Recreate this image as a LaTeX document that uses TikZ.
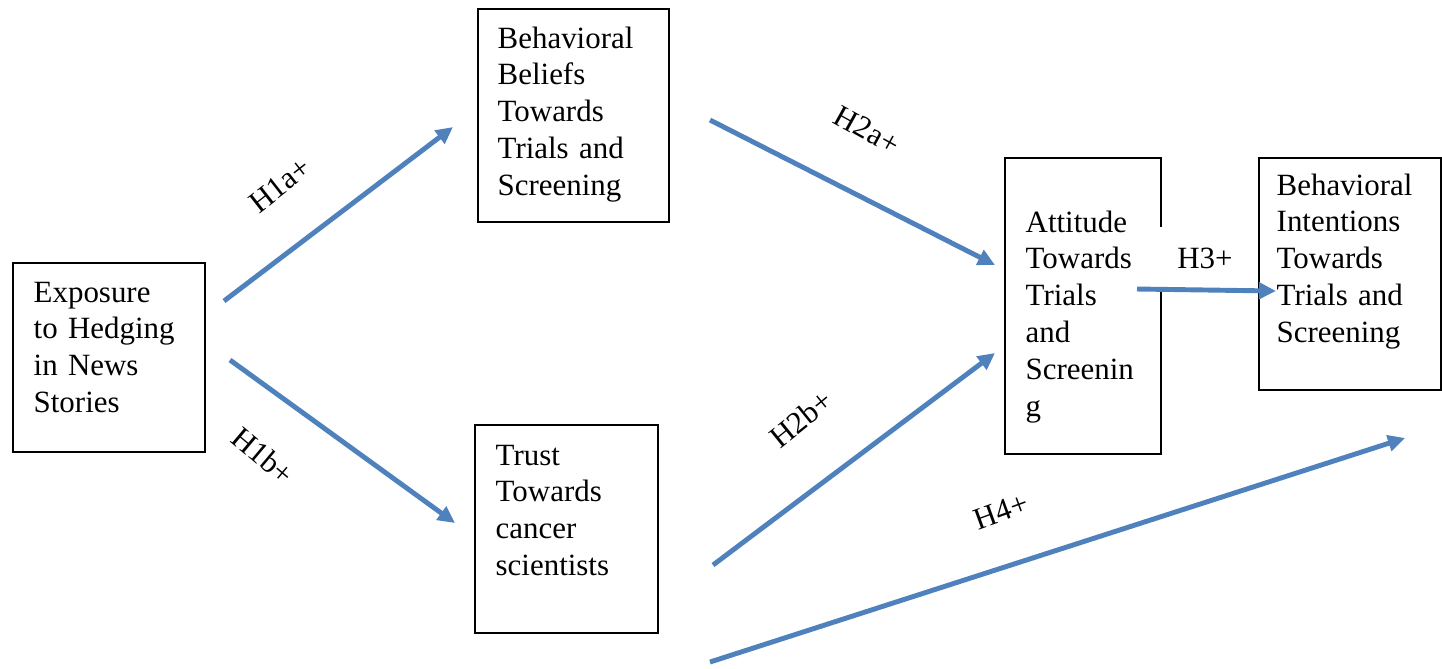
\documentclass[tikz,border=0pt]{standalone}
\usepackage{fontspec}
\setmainfont{Liberation Serif}
\usetikzlibrary{positioning,calc,arrows.meta}

\begin{document}
\begin{tikzpicture}[x=0.1mm,y=-0.1mm]
  \useasboundingbox (0,0) rectangle (1442,668);
  \begin{scope}[
    every node/.style={
      font=\fontsize{8.8}{10.5}\selectfont,
    },
    box/.style={
      rectangle,
      draw,
      line width=0.6pt,
      anchor=north west,
      inner sep=0pt,
    },
    boxtext/.style={
      anchor=base west,
      align=left,
      text width=16mm,
      inner sep=0pt,
    },
    ]
    % Exposure
    \node [box,minimum width=19.2mm,minimum height=18.9mm] (Expo) at (12,262) {};
    \node [boxtext] (ExpoT) at (33,302)
    {Exposure\\
      to Hedging\\
      in News\\
      Stories};

    % Beliefs
    \node [box,minimum width=19.1mm,minimum height=21.3mm] (Belief) at (477,8) {};
    \node [boxtext] (BeliefT) at (497,48)
    {Behavioral\\
      Beliefs\\
      Towards\\
      Trials and\\
      Screening};

    % Trust
    \node [box,minimum width=18.3mm,minimum height=20.8mm] (Trust) at (474,424) {};
    \node [boxtext] (TrustT) at (495,465)
    {Trust\\
      Towards\\
      cancer\\
      scientists};

    % Attitude
    \node [box,minimum width=15.6mm,minimum height=29.6mm] (Att) at (1004,157) {};
    \node [boxtext] (AttT) at (1025,232)
    {Attitude\\
      Towards\\
      Trials\\
      and\\
      Screenin\\
      g};

    % Intentions
    \node [box,minimum width=18.2mm,minimum height=23.2mm] (Intent) at (1258,157) {};
    \node [boxtext] (IntentT) at (1276,195)
    {Behavioral\\
      Intentions\\
      Towards\\
      Trials and\\
      Screening};
  \end{scope}
  \begin{scope}[
    myarrow/.style={
      draw=arrowblue,
      line width=1.4pt,
      -{Triangle[length=1.7mm,width=1.6mm]},
    },
    hyp/.style={
      font=\fontsize{8.8}{10.5}\selectfont,
      inner sep=1pt,
    },
    ]
    \definecolor{arrowblue}{RGB}{79,129,189}
    % ends of the paths
    \coordinate (h1aStart) at (224,301);
    \coordinate (h1aEnd) at (453,127);
    \coordinate (h1bStart) at (230,360);
    \coordinate (h1bEnd) at (455,523);
    \coordinate (h2aStart) at (710,120);
    \coordinate (h2aEnd) at (995,265);
    \coordinate (h2bStart) at (713,565);
    \coordinate (h2bEnd) at (995,353);
    \coordinate (h3Start) at (1137,289);
    \coordinate (h3End) at (1276,291);
    \coordinate (h4Start) at (710,662);
    \coordinate (h4End) at (1405,438);

    % Path Expo
    \draw [myarrow] (h1aStart) -- (h1aEnd);
    \draw [myarrow] (h1bStart) -- (h1bEnd);
    \node [hyp,rotate=38] (lblH1a) at (280,185) {H1a+};
    \node [hyp,rotate=-40] (lblH1b) at (263,456) {H1b+};

    % Path Belief / Trust
    \draw [myarrow] (h2aStart) -- (h2aEnd);
    \draw [myarrow] (h2bStart) -- (h2bEnd);
    \node [hyp,rotate=-29] (lblH2a) at (867,130) {H2a+};
    \node [hyp,rotate=39] (lblH2b) at (801,419) {H2b+};

    % Path Att
    \node [hyp,fill=white,minimum width=10mm,minimum height=6.2mm] (lblH3) at (1205,258) {H3+};
    \draw [myarrow] (h3Start) -- (h3End);

    % Path Trust
    \draw [myarrow] (h4Start) -- (h4End);
    \node [hyp,rotate=20] (lblH4) at (1001,511) {H4+};
  \end{scope}
\end{tikzpicture}
\end{document}
